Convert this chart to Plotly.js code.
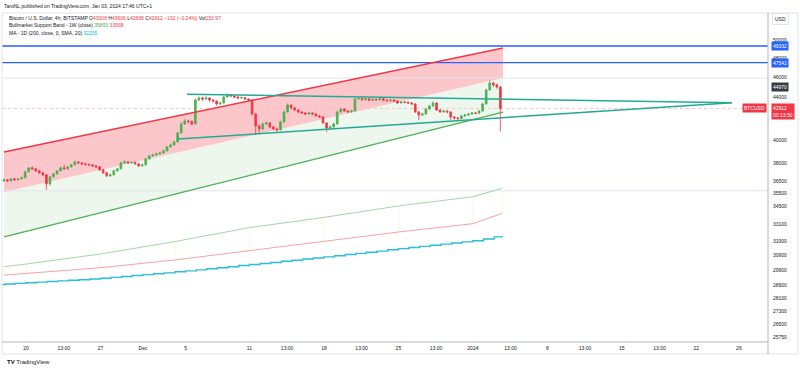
<!DOCTYPE html>
<html><head><meta charset="utf-8">
<script src="https://cdn.plot.ly/plotly-3.0.1.min.js"></script>
<style>html,body{margin:0;padding:0;background:#fff}#chart{width:800px;height:370px}</style>
</head><body><div id="chart"></div>
<script>
// ---------- DATA ----------
// 8h candles starting 2023-11-17 22:00
const candleStartUTC = [2023, 10, 17, 22];
const candleStepHours = 8;
const opens = [36503,36585,36503,36666,36585,36666,36748,37243,37577,37493,
 37327,37160,36995,36260,36830,37078,37327,37577,37493,37661,
 37829,38082,37998,37913,37870,37829,37745,37661,37410,37160,
 36913,36995,37327,37493,37998,38082,37998,38040,37913,37745,
 37829,38338,38595,38681,38768,38854,39028,39378,39554,39819,
 40627,41451,41729,41680,41451,43729,43925,43827,43925,43729,
 43632,43341,43438,44023,44220,44121,44023,43925,43960,43827,
 43729,42385,41266,40991,41451,41543,41174,40991,40899,41636,
 42575,43245,42956,42765,42575,42480,42385,42480,42385,42197,
 42103,41543,41082,41174,41451,42575,42860,42670,42575,42670,
 43827,43880,43760,43850,43700,43790,43745,43860,43710,43650,
 43740,43620,43438,43535,43500,43438,43341,42575,42291,42385,
 42860,43148,43438,42765,42575,42670,42575,42103,42009,41960,
 42197,42291,42385,42480,42450,42670,43341,44716,45420,45218,
 45016];
const closes = [36585,36503,36666,36585,36666,36748,37243,37577,37493,37327,
 37160,36995,36260,36830,37078,37327,37577,37493,37661,37829,
 38082,37998,37913,37870,37829,37745,37661,37410,37160,36913,
 36995,37327,37493,37998,38082,37998,38040,37913,37745,37829,
 38338,38595,38681,38768,38854,39028,39378,39554,39819,40627,
 41451,41729,41680,41451,43729,43925,43827,43925,43729,43632,
 43341,43438,44023,44220,44121,44023,43925,43960,43827,43729,
 42385,41266,40991,41451,41543,41174,40991,40899,41636,42575,
 43245,42956,42765,42575,42480,42385,42480,42385,42197,42103,
 41543,41082,41174,41451,42575,42860,42670,42575,42670,43827,
 43880,43760,43850,43700,43790,43745,43860,43710,43650,43740,
 43620,43438,43535,43500,43438,43341,42575,42291,42385,42860,
 43148,43438,42765,42575,42670,42575,42103,42009,41960,42197,
 42291,42385,42480,42450,42670,43341,44716,45420,45218,45016,
 42912];
const highs = [36700,36660,36740,36760,36720,36850,37330,37650,37700,37560,
 37400,37220,37050,36900,37150,37400,37700,37850,37740,37900,
 38180,38150,38050,37990,37950,37900,37800,37720,37480,37200,
 37080,37400,37580,38090,38200,38150,38130,38100,37960,37900,
 38420,38700,38780,38860,38950,39140,39480,39680,39950,40750,
 41600,41900,41850,41780,43900,44100,44050,44080,43980,43800,
 43700,43550,44150,44380,44300,44200,44100,44080,44020,43880,
 43800,42450,41400,41600,41700,41620,41250,41100,41750,42700,
 43400,43300,43050,42850,42650,42560,42580,42550,42450,42300,
 42180,41620,41300,41550,42700,42980,42950,42750,42780,43950,
 44000,43950,43930,43900,43900,43860,43940,43900,43790,43820,
 43790,43700,43620,43640,43580,43520,43400,42650,42500,42950,
 43250,43600,43500,42850,42780,42740,42650,42200,42100,42300,
 42380,42480,42560,42580,42780,43450,44850,45720,45550,45380,
 45100];
const lows = [36420,36400,36450,36520,36540,36610,36700,37200,37400,37250,
 37080,36900,35780,36100,36760,37000,37280,37420,37430,37600,
 37780,37900,37820,37780,37740,37660,37560,37330,37080,36800,
 36840,36950,37260,37450,37930,37900,37940,37840,37660,37680,
 37790,38280,38520,38600,38700,38800,38980,39300,39480,39780,
 40550,41380,41500,41300,41400,43600,43650,43700,43550,43450,
 43200,43250,43380,43950,44000,43900,43820,43850,43740,43600,
 42250,40450,40500,40900,41350,41050,40850,40700,40850,41550,
 42500,42850,42650,42480,42380,42280,42300,42290,42100,42000,
 41450,40700,40900,41100,41400,42500,42580,42480,42500,42600,
 43750,43650,43680,43620,43640,43650,43680,43640,43550,43570,
 43530,43350,43380,43420,43350,43250,42480,41820,42150,42300,
 42780,43050,42680,42480,42500,42450,41800,41850,41700,41900,
 42120,42220,42300,42350,42400,42600,43280,44650,45000,44850,
 40750];

// MA - 1D (200, close, SMA): daily values from 2023-11-17
const maStartUTC = [2023, 10, 17];
const maValues = [28950,28990,29030,29070,29110,29150,29190,29230,29270,29310,
 29360,29420,29480,29540,29600,29660,29720,29790,29850,29920,
 29990,30060,30130,30210,30280,30350,30420,30500,30570,30650,
 30720,30800,30880,30960,31040,31120,31200,31290,31370,31450,
 31530,31610,31690,31770,31850,31930,32060,32205];
const maLastBar = '2024-01-03 20:00';

// Bullmarket Support Band - 1W
const bandDates = ['2023-11-17 22:20','2023-11-20','2023-11-27','2023-12-04','2023-12-11','2023-12-18','2023-12-25','2024-01-01','2024-01-03 17:45'];
const bandGreen = [30130,30310,31000,31870,32880,33640,34510,35230,35893];
const bandRed   = [29570,29680,30060,30590,31230,31840,32560,33170,33938];

// Drawings
const channelDates = ['2023-11-17 22:20','2024-01-03 19:55'];
const channelUpper = [38930, 49115];
const channelMiddle = [35605, 45930];
const channelLower = [32200, 42570];
const triUpperDates = ['2023-12-05 03:10','2024-01-25 08:28'];
const triUpper = [44290, 43465];
const triLowerDates = ['2023-12-04 06:52','2024-01-25 08:28'];
const triLower = [40080, 43465];
const blueLevels = [49332, 47542];
const greyLevels = [45930, 35700];
const lastPrice = 42912;
const darkLevel = 44970;
const countdown = '00:13:50';

// Axis ticks (42000 is hidden under the last-price label in the reference)
const xTickDates = ['2023-11-20','2023-11-23 13:00','2023-11-27','2023-12-01','2023-12-05','2023-12-11','2023-12-14 13:00','2023-12-18','2023-12-21 13:00','2023-12-25','2023-12-28 13:00','2024-01-01','2024-01-04 13:00','2024-01-08','2024-01-11 13:00','2024-01-15','2024-01-18 13:00','2024-01-22','2024-01-26'];
const xTickText = ['20','13:00','27','Dec','5','11','13:00','18','13:00','25','13:00','2024','13:00','8','13:00','15','13:00','22','26'];
const yTickVals = [50000,48000,46000,44000,40000,38000,36500,35500,34500,33100,31900,30900,29900,28900,28100,27300,26500,25750];

// Legend values
const ohlcLabels = ['O','H','L','C'];
const lastOHLC = [43008, 43606, 42838, 42912];
const changeText = '\u2212102 (\u22120.24%)';
const volText = '150.97';
const bandLegend = [35893, 33938];
const maLegend = 32205;

// ---------- BUILD ----------
const pad = n => String(n).padStart(2, '0');
const fmt = ms => { const d = new Date(ms); return d.getUTCFullYear()+'-'+pad(d.getUTCMonth()+1)+'-'+pad(d.getUTCDate())+' '+pad(d.getUTCHours())+':'+pad(d.getUTCMinutes()); };
const c0 = Date.UTC(...candleStartUTC);
const candleDates = closes.map((_, i) => fmt(c0 + i * candleStepHours * 3600e3));
const m0 = Date.UTC(...maStartUTC);
const maDates = maValues.map((_, i) => fmt(m0 + i * 86400e3)).concat([maLastBar]);
const maY = maValues.concat([maValues[maValues.length - 1]]);

const xStart = '2023-11-17 17:52', xEnd = '2024-01-28 17:41';
const yRange = [Math.log10(25466), Math.log10(53109)];
const GREEN = '#4caf50', RED = '#f23645', TEAL = '#22ab94', BLUE = '#2962ff';

const traces = [];
// fills (base layer)
traces.push({x: channelDates, y: channelLower, mode: 'lines', line: {width: 0}, hoverinfo: 'skip'});
traces.push({x: channelDates, y: channelMiddle, mode: 'lines', line: {width: 0}, fill: 'tonexty', fillcolor: 'rgba(76,175,80,0.10)', hoverinfo: 'skip'});
traces.push({x: channelDates, y: channelUpper, mode: 'lines', line: {width: 0}, fill: 'tonexty', fillcolor: 'rgba(242,54,69,0.28)', hoverinfo: 'skip'});
// horizontal levels
greyLevels.forEach(v => traces.push({x: [xStart, xEnd], y: [v, v], mode: 'lines', line: {color: '#e0e3eb', width: 1}, hoverinfo: 'skip'}));
traces.push({x: [xStart, xEnd], y: [lastPrice, lastPrice], mode: 'lines', line: {color: '#f9c0c4', width: 1, dash: 'dot'}, hoverinfo: 'skip'});
traces.push({x: [xStart, xEnd], y: [blueLevels[0], blueLevels[0]], mode: 'lines', line: {color: '#5b86ff', width: 2}, hoverinfo: 'skip'});
traces.push({x: [xStart, xEnd], y: [blueLevels[1], blueLevels[1]], mode: 'lines', line: {color: BLUE, width: 1.3}, hoverinfo: 'skip'});
// bull market support band
const vx = [], vy = [];
bandDates.forEach((d, i) => { vx.push(d, d, null); vy.push(bandRed[i], bandGreen[i], null); });
traces.push({x: vx, y: vy, mode: 'lines', line: {color: '#fdf6d8', width: 1}, hoverinfo: 'skip'});
traces.push({x: bandDates, y: bandGreen, mode: 'lines', line: {color: '#a5d6a7', width: 1}, hoverinfo: 'skip'});
traces.push({x: bandDates, y: bandRed, mode: 'lines', line: {color: '#f7a3a3', width: 1}, hoverinfo: 'skip'});
// MA
traces.push({x: maDates, y: maY, mode: 'lines', line: {color: '#29bfd8', width: 1.4, shape: 'hv'}, hoverinfo: 'skip'});
// candles (overlay y2)
traces.push({type: 'candlestick', x: candleDates, open: opens, high: highs, low: lows, close: closes,
  yaxis: 'y2', hoverinfo: 'skip', whiskerwidth: 0,
  increasing: {line: {color: GREEN, width: 0.8}, fillcolor: GREEN},
  decreasing: {line: {color: RED, width: 0.8}, fillcolor: RED}});
// drawing lines (overlay y3)
traces.push({x: channelDates, y: channelUpper, yaxis: 'y3', mode: 'lines', line: {color: RED, width: 1.5}, hoverinfo: 'skip'});
traces.push({x: channelDates, y: channelLower, yaxis: 'y3', mode: 'lines', line: {color: GREEN, width: 1.3}, hoverinfo: 'skip'});
traces.push({x: triUpperDates, y: triUpper, yaxis: 'y3', mode: 'lines', line: {color: TEAL, width: 1.5}, hoverinfo: 'skip'});
traces.push({x: triLowerDates, y: triLower, yaxis: 'y3', mode: 'lines', line: {color: TEAL, width: 1.5}, hoverinfo: 'skip'});

const FONT = 'Liberation Sans, Arial, sans-serif';
const TXT = '#131722';
const pyX = px => (px - 2) / 766;
const pyY = py => (342 - py) / 329;
const sp = (c, t) => '<span style="color:' + c + '">' + t + '</span>';

const line1 = 'Bitcoin / U.S. Dollar, 4h, BITSTAMP ' +
  ohlcLabels.map((l, i) => l + sp(RED, lastOHLC[i])).join(' ') + ' ' + sp(RED, changeText) + ' Vol' + sp(RED, volText);
const line2 = 'Bullmarket Support Band - 1W (close) ' + sp(GREEN, bandLegend[0]) + ' ' + sp(RED, bandLegend[1]);
const line3 = 'MA - 1D (200, close, 0, SMA, 20) ' + sp('#00bcd4', maLegend);

const ann = (o) => Object.assign({showarrow: false, font: {family: FONT, size: 5, color: TXT}}, o);
const annotations = [
  ann({xref: 'paper', yref: 'paper', x: 0, y: pyY(6), xanchor: 'left', yanchor: 'middle', text: 'TaroNL published on TradingView.com, Jan 03, 2024 17:46 UTC+1'}),
  ann({xref: 'paper', yref: 'paper', x: pyX(7), y: pyY(17.7), xanchor: 'left', yanchor: 'middle', text: line1}),
  ann({xref: 'paper', yref: 'paper', x: pyX(7), y: pyY(25.3), xanchor: 'left', yanchor: 'middle', text: line2}),
  ann({xref: 'paper', yref: 'paper', x: pyX(7), y: pyY(33), xanchor: 'left', yanchor: 'middle', text: line3}),
  ann({xref: 'paper', yref: 'paper', x: pyX(781), y: pyY(19), xanchor: 'center', yanchor: 'middle', text: 'USD', bordercolor: '#e0e3eb', borderwidth: 1, borderpad: 2}),
  ann({xref: 'paper', yref: 'y', x: 1, xshift: 3, xanchor: 'left', yanchor: 'middle', y: Math.log10(blueLevels[0]), text: String(blueLevels[0]), bgcolor: BLUE, borderpad: 1, font: {family: FONT, size: 5, color: '#fff'}}),
  ann({xref: 'paper', yref: 'y', x: 1, xshift: 3, xanchor: 'left', yanchor: 'middle', y: Math.log10(blueLevels[1]), text: String(blueLevels[1]), bgcolor: BLUE, borderpad: 1, font: {family: FONT, size: 5, color: '#fff'}}),
  ann({xref: 'paper', yref: 'y', x: 1, xshift: 3, xanchor: 'left', yanchor: 'middle', y: Math.log10(darkLevel), text: String(darkLevel), bgcolor: '#363a45', borderpad: 1, font: {family: FONT, size: 5, color: '#fff'}}),
  ann({xref: 'paper', yref: 'y', x: 1, xshift: 3, xanchor: 'left', yanchor: 'top', yshift: 5, y: Math.log10(lastPrice), text: String(lastPrice) + '<br>' + countdown, align: 'left', bgcolor: RED, borderpad: 1, font: {family: FONT, size: 5, color: '#fff'}}),
  ann({xref: 'paper', yref: 'y', x: 1, xshift: -1, xanchor: 'right', yanchor: 'middle', y: Math.log10(lastPrice), text: 'BTCUSD', bgcolor: RED, borderpad: 1, font: {family: FONT, size: 5, color: '#fff'}}),
  ann({xref: 'paper', yref: 'paper', x: pyX(5), y: pyY(362), xanchor: 'left', yanchor: 'middle', text: '<b>TV</b> TradingView', font: {family: FONT, size: 6, color: TXT}})
];

const shapes = [
  {type: 'rect', xref: 'paper', yref: 'paper', x0: 0, x1: pyX(798), y0: pyY(354), y1: 1, line: {color: '#e0e3eb', width: 1}},
  {type: 'line', xref: 'paper', yref: 'paper', x0: 1, x1: 1, y0: pyY(354), y1: 1, line: {color: '#b2b5be', width: 1}},
  {type: 'line', xref: 'paper', yref: 'paper', x0: 0, x1: 1, y0: 0, y1: 0, line: {color: '#b2b5be', width: 1}}
];

const layout = {
  width: 800, height: 370,
  margin: {l: 2, r: 32, t: 13, b: 28},
  paper_bgcolor: '#ffffff', plot_bgcolor: '#ffffff',
  showlegend: false, hovermode: false,
  font: {family: FONT, size: 5, color: TXT},
  xaxis: {type: 'date', range: [xStart, xEnd], tickmode: 'array', tickvals: xTickDates, ticktext: xTickText,
    showgrid: false, zeroline: false, showline: false, ticks: '', tickfont: {size: 5, color: TXT},
    rangeslider: {visible: false}, fixedrange: true, ticklabelstandoff: 2},
  yaxis: {type: 'log', range: yRange, side: 'right', tickmode: 'array', tickvals: yTickVals, ticktext: yTickVals.map(String),
    showgrid: false, zeroline: false, showline: false, ticks: '', tickfont: {size: 5, color: TXT}, fixedrange: true, ticklabelstandoff: 4},
  yaxis2: {type: 'log', range: yRange, overlaying: 'y', visible: false, fixedrange: true},
  yaxis3: {type: 'log', range: yRange, overlaying: 'y', visible: false, fixedrange: true},
  annotations: annotations,
  shapes: shapes
};

Plotly.newPlot('chart', traces, layout, {staticPlot: true, displayModeBar: false});
</script>
</body></html>
